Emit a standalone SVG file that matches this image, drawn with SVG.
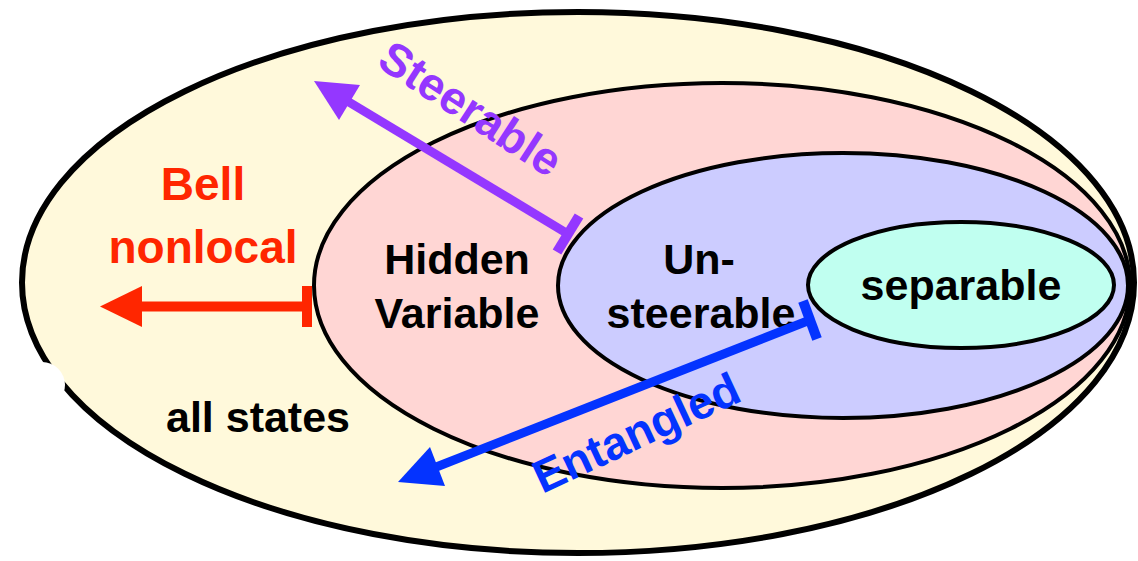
<svg xmlns="http://www.w3.org/2000/svg" width="1138" height="561" viewBox="0 0 1138 561">
  <style>
    .set { stroke: #000; stroke-width: 4; }
    .lbl { font-family: "Liberation Sans", Arial, sans-serif; font-weight: bold; font-size: 43px; fill: #000; text-anchor: middle; }
    .clbl { font-family: "Liberation Sans", Arial, sans-serif; font-weight: bold; font-size: 46px; text-anchor: middle; }
  </style>
  <rect width="1138" height="561" fill="#ffffff"/>
  <g id="all-states">
    <ellipse cx="578" cy="282.5" rx="556" ry="270.5" fill="#fff9db" stroke="#000" stroke-width="6"/>
    <circle cx="42" cy="385" r="23" fill="#ffffff"/>
    <text class="lbl" x="258" y="432">all states</text>
  </g>
  <g id="hidden-variable">
    <ellipse class="set" cx="722" cy="285.5" rx="408" ry="202.5" fill="#ffd6d4"/>
    <text class="lbl" x="457" y="274">Hidden</text>
    <text class="lbl" x="457" y="328">Variable</text>
  </g>
  <g id="unsteerable">
    <ellipse class="set" cx="843" cy="285.5" rx="285" ry="132.5" fill="#ccccff"/>
    <text class="lbl" x="699" y="274">Un-</text>
    <text class="lbl" x="701" y="328">steerable</text>
  </g>
  <g id="separable">
    <ellipse class="set" cx="961" cy="285" rx="153" ry="63" fill="#c0fff0"/>
    <text class="lbl" x="961" y="300">separable</text>
  </g>
  <g id="connectors">
    <g id="bell-arrow" fill="#ff2600">
      <line x1="307" y1="306.5" x2="140" y2="306.5" stroke="#ff2600" stroke-width="10"/>
      <rect x="302" y="286" width="10" height="41"/>
      <polygon points="100,306.5 142,286 142,327"/>
    </g>
    <g id="steerable-arrow" fill="#9437ff">
      <line x1="568" y1="234" x2="348" y2="101.5" stroke="#9437ff" stroke-width="9"/>
      <line x1="579" y1="216" x2="557" y2="252" stroke="#9437ff" stroke-width="10"/>
      <polygon points="314,81 360,85 339,120"/>
    </g>
    <g id="entangled-arrow" fill="#0433ff">
      <line x1="810" y1="320" x2="435" y2="467.5" stroke="#0433ff" stroke-width="9"/>
      <line x1="803" y1="301" x2="817" y2="339" stroke="#0433ff" stroke-width="10"/>
      <polygon points="398,482 445,486 430,447"/>
    </g>
  </g>
  <g id="bell-nonlocal">
    <text class="clbl" x="203" y="200" fill="#ff2600">Bell</text>
    <text class="clbl" x="203" y="263" fill="#ff2600">nonlocal</text>
  </g>
  <g id="steerable-label">
    <text class="clbl" fill="#9437ff" font-size="48" transform="translate(462,122) rotate(33)">Steerable</text>
  </g>
  <g id="entangled-label">
    <text class="clbl" fill="#0433ff" font-size="48" transform="translate(643,447) rotate(-25)">Entangled</text>
  </g>
</svg>
